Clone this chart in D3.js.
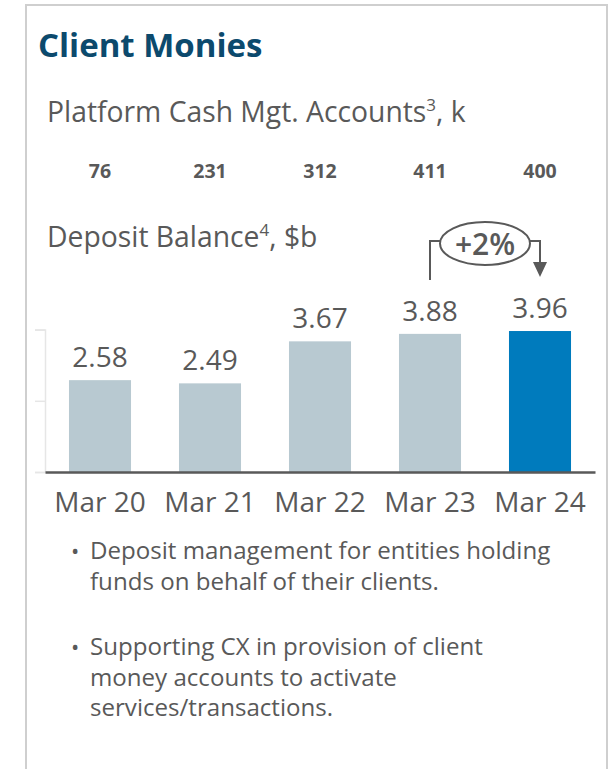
<!DOCTYPE html>
<html>
<head>
<meta charset="utf-8">
<script src="https://cdn.jsdelivr.net/npm/d3@7"></script>
<style>
  html, body { margin: 0; padding: 0; background: #fff; }
  svg { display: block; font-family: "Open Sans", "Noto Sans", sans-serif; }
</style>
</head>
<body>
<svg id="chart" width="611" height="769"></svg>
<script>
// Data
const periods = ["Mar 20", "Mar 21", "Mar 22", "Mar 23", "Mar 24"];
const accountsK = [76, 231, 312, 411, 400];
const depositBalance = [2.58, 2.49, 3.67, 3.88, 3.96];
const yTicks = [0, 2, 4];
const growthLabel = "+2%";
const bullets = [
  ["Deposit management for entities holding", "funds on behalf of their clients."],
  ["Supporting CX in provision of client", "money accounts to activate", "services/transactions."]
];

const svg = d3.select("#chart");
const grey = "#595959";

// Card frame
svg.append("rect")
  .attr("x", 26).attr("y", 5)
  .attr("width", 581).attr("height", 800)
  .attr("fill", "none").attr("stroke", "#cfcfcf").attr("stroke-width", 2);

// Title
svg.append("text")
  .attr("x", 38).attr("y", 57)
  .attr("font-size", 33).attr("font-weight", 700)
  .attr("fill", "#0c4a6d")
  .text("Client Monies");

// Section heading helper with superscript
function heading(y, main, sup, rest) {
  const t = svg.append("text")
    .attr("x", 47).attr("y", y)
    .attr("font-size", 28.3).attr("fill", grey);
  t.append("tspan").text(main);
  t.append("tspan").attr("font-size", 17).attr("dy", -11).text(sup);
  t.append("tspan").attr("dy", 11).text(rest);
  return t;
}
heading(122, "Platform Cash Mgt. Accounts", "3", ", k");
heading(247, "Deposit Balance", "4", ", $b");

// Scales
const x = d3.scaleBand()
  .domain(periods)
  .range([45, 595])
  .paddingInner(0.436)
  .paddingOuter(0.218);

const y = d3.scaleLinear()
  .domain([0, 4])
  .range([472, 329.6]);

// Faint value axis (no labels)
const yAxis = svg.append("g")
  .attr("transform", "translate(45,0)")
  .call(d3.axisLeft(y).tickValues(yTicks).tickSize(10).tickFormat(""));
yAxis.selectAll("path, line").attr("stroke", "#e6e6e6").attr("stroke-width", 1.5);

// Account counts row
svg.append("g").selectAll("text")
  .data(periods)
  .join("text")
  .attr("x", d => x(d) + x.bandwidth() / 2)
  .attr("y", 178)
  .attr("text-anchor", "middle")
  .attr("font-size", 19.5).attr("font-weight", 700)
  .attr("fill", grey)
  .text((d, i) => accountsK[i]);

// Bars
svg.append("g").selectAll("rect")
  .data(periods)
  .join("rect")
  .attr("x", d => x(d))
  .attr("width", x.bandwidth())
  .attr("y", (d, i) => y(depositBalance[i]))
  .attr("height", (d, i) => y(0) - y(depositBalance[i]))
  .attr("fill", (d, i) => i === periods.length - 1 ? "#007bbd" : "#b8c9d1");

// Value labels
svg.append("g").selectAll("text")
  .data(periods)
  .join("text")
  .attr("x", d => x(d) + x.bandwidth() / 2)
  .attr("y", (d, i) => y(depositBalance[i]) - 13)
  .attr("text-anchor", "middle")
  .attr("font-size", 28)
  .attr("fill", grey)
  .text((d, i) => depositBalance[i].toFixed(2));

// Category axis
const xAxis = svg.append("g")
  .attr("transform", `translate(0,${y(0)})`)
  .call(d3.axisBottom(x).tickSize(0).tickPadding(20));
xAxis.select(".domain").attr("stroke", grey).attr("stroke-width", 2.5);
xAxis.selectAll("text")
  .attr("font-size", 28)
  .attr("font-family", "'Open Sans', sans-serif")
  .attr("fill", grey);

// Growth annotation between the last two periods
const xa = x(periods[3]) + x.bandwidth() / 2;
const xb = x(periods[4]) + x.bandwidth() / 2;
const cx = (xa + xb) / 2, cy = 243.5, rx = 45, ry = 21.5;
const ann = svg.append("g").attr("stroke", grey).attr("stroke-width", 2).attr("fill", "none");
ann.append("path").attr("d", `M${xa},280 V${cy - 2.5} H${cx - rx + 1}`);
ann.append("ellipse").attr("cx", cx).attr("cy", cy).attr("rx", rx).attr("ry", ry);
ann.append("path").attr("d", `M${cx + rx - 1},${cy - 2.5} H${xb} V${264}`);
svg.append("path")
  .attr("d", `M${xb - 7},${262} L${xb + 7},${262} L${xb},${277} Z`)
  .attr("fill", grey);
svg.append("text")
  .attr("x", cx).attr("y", cy + 11)
  .attr("text-anchor", "middle")
  .attr("font-size", 30).attr("font-weight", 600)
  .attr("fill", grey)
  .text(growthLabel);

// Bullet points
let lineY = 559;
bullets.forEach((lines) => {
  svg.append("text")
    .attr("x", 71).attr("y", lineY)
    .attr("font-size", 22).attr("fill", grey)
    .text("•");
  lines.forEach((ln, li) => {
    svg.append("text")
      .attr("x", 90).attr("y", lineY + li * 30.7)
      .attr("font-size", 24.1).attr("fill", grey)
      .text(ln);
  });
  lineY += lines.length * 30.7 + 34.6;
});
</script>
</body>
</html>
